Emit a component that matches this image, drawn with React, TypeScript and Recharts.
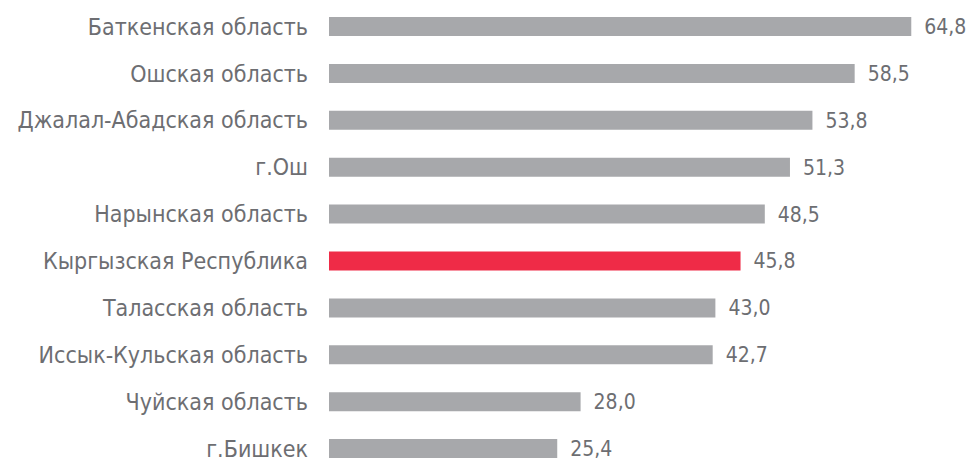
import { Bar, BarChart, Cell, LabelList, XAxis, YAxis } from "recharts";

const regions = [
  "Баткенская область",
  "Ошская область",
  "Джалал-Абадская область",
  "г.Ош",
  "Нарынская область",
  "Кыргызская Республика",
  "Таласская область",
  "Иссык-Кульская область",
  "Чуйская область",
  "г.Бишкек",
];

const values = [64.8, 58.5, 53.8, 51.3, 48.5, 45.8, 43.0, 42.7, 28.0, 25.4];

const highlight = "Кыргызская Республика";

const data = regions.map((name, i) => ({ name, value: values[i] }));

const font = "'DejaVu Sans Condensed', 'Liberation Sans Narrow', sans-serif";

export default function App() {
  return (
    <div style={{ position: "fixed", top: 0, left: 0, width: 967, height: 459, overflow: "hidden", background: "#fff" }}>
      <BarChart
        width={967}
        height={480}
        data={data}
        layout="vertical"
        margin={{ top: 3, right: 9, left: 0, bottom: 8 }}
      >
        <XAxis type="number" domain={[0, 70]} hide />
        <YAxis
          type="category"
          dataKey="name"
          width={329}
          axisLine={false}
          tickLine={false}
          tickSize={0}
          tickMargin={21}
          tick={{ fill: "#6d6e72", fontSize: 23, fontFamily: font }}
          interval={0}
        />
        <Bar dataKey="value" barSize={19} isAnimationActive={false}>
          {data.map((d) => (
            <Cell key={d.name} fill={d.name === highlight ? "#ef2b47" : "#a7a8ab"} />
          ))}
          <LabelList
            dataKey="value"
            position="right"
            offset={13}
            formatter={(v: number) => v.toFixed(1).replace(".", ",")}
            style={{ fill: "#6d6e72", fontSize: 21, fontFamily: font }}
          />
        </Bar>
      </BarChart>
    </div>
  );
}
